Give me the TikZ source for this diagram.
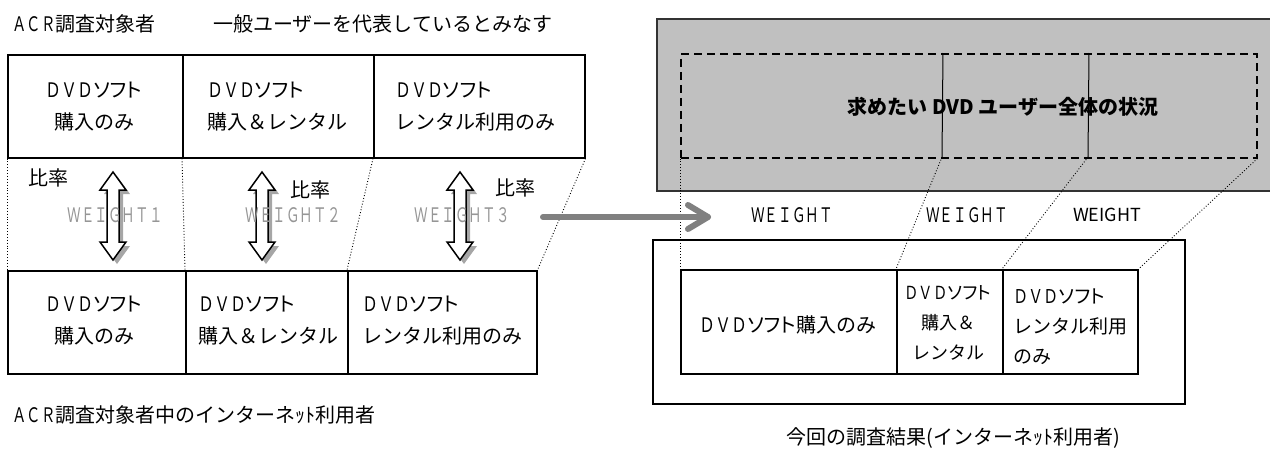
\documentclass[tikz,border=0pt]{standalone}
\usepackage{graphicx}
\usepackage{fontspec}
\setmainfont{Noto Sans CJK JP}
\newfontfamily\pk[RawFeature=+palt]{Noto Sans CJK JP}
\usetikzlibrary{shadows,calc}
\newcommand\dvd{\scalebox{0.8}[1]{ＤＶＤ}{\pk ソフト}}
\newcommand\acr{\scalebox{0.72}[1]{ＡＣＲ}}
\newcommand\wgt[1]{\scalebox{0.68}[1]{#1}}
\definecolor{silverbg}{RGB}{192,192,192}
\definecolor{arrowgray}{RGB}{128,128,128}
\definecolor{wgray}{RGB}{150,150,150}
\begin{document}
\begin{tikzpicture}[x=1pt,y=-1pt,
  cell/.style={draw,line width=1.5pt,inner sep=0,anchor=north west},
  lbl/.style={inner sep=0,font=\fontsize{20}{32}\selectfont},
  dots/.style={dotted,line width=0.9pt},
  wlbl/.style={inner sep=0,font=\fontsize{20}{22}\selectfont},
  dbl/.style={draw,line width=1.5pt,fill=white,drop shadow={shadow xshift=4pt,shadow yshift=-4pt,fill=gray!70,opacity=1}},
  garrow/.style={draw=arrowgray,line width=6pt,line cap=round,line join=round}]
\useasboundingbox (0,0) rectangle (1270,450);

% ---------- header ----------
\node[lbl,anchor=west] (h1) at (12,24) {\acr 調査対象者};
\node[lbl,anchor=west] (h2) at (213,24) {一般ユーザーを代表しているとみなす};

% ---------- left top row ----------
\node[cell,minimum width=175pt,minimum height=103pt] (T1) at (7,54) {};
\node[cell,minimum width=191pt,minimum height=103pt] (T2) at (182,54) {};
\node[cell,minimum width=211pt,minimum height=103pt] (T3) at (373,54) {};
\node[lbl,align=center] (t1) at (94,107) {\dvd\\購入のみ};
\node[lbl,align=left,anchor=west] (t2) at (207,107) {\dvd\\購入＆レンタル};
\node[lbl,align=left,anchor=west] (t3) at (395,107) {\dvd\\レンタル利用のみ};

% ---------- left bottom row ----------
\node[cell,minimum width=178pt,minimum height=103pt] (B1) at (7,270) {};
\node[cell,minimum width=162pt,minimum height=103pt] (B2) at (185,270) {};
\node[cell,minimum width=189pt,minimum height=103pt] (B3) at (347,270) {};
\node[lbl,align=center] (b1) at (94,321) {\dvd\\購入のみ};
\node[lbl,align=left,anchor=west] (b2) at (198,321) {\dvd\\購入＆レンタル};
\node[lbl,align=left,anchor=west] (b3) at (362,321) {\dvd\\レンタル利用のみ};

% dotted connectors left
\draw[dots] (T1.south west) -- (B1.north west);
\draw[dots] (T2.south west) -- (B2.north west);
\draw[dots] (T3.south west) -- (B3.north west);
\draw[dots] (T3.south east) -- (B3.north east);

% double arrows
\foreach \cx in {113,262,460} {
  \path[dbl] (\cx,172) -- (\cx+13,190) -- (\cx+6,190) -- (\cx+6,242) -- (\cx+13,242) -- (\cx,260)
    -- (\cx-13,242) -- (\cx-6,242) -- (\cx-6,190) -- (\cx-13,190) -- cycle;
}
\node[lbl,anchor=west] (r1) at (28,178) {比率};
\node[lbl,anchor=west] (r2) at (290,190) {比率};
\node[lbl,anchor=west] (r3) at (495,188) {比率};
\node[wlbl,text=wgray] (w1) at (115,215) {\wgt{ＷＥＩＧＨＴ１}};
\node[wlbl,text=wgray] (w2) at (293,215) {\wgt{ＷＥＩＧＨＴ２}};
\node[wlbl,text=wgray] (w3) at (462,215) {\wgt{ＷＥＩＧＨＴ３}};

\node[lbl,anchor=west] (c1) at (12,415) {\acr 調査対象者中のインターネｯﾄ利用者};

% ---------- right: target population ----------
\node[cell,fill=silverbg,draw=black!80,line width=2pt,minimum width=620pt,minimum height=172pt] (G) at (656,18) {};
\node[cell,dashed,dash pattern=on 8pt off 5pt,minimum width=576pt,minimum height=104pt] (D) at (680,53) {};
\coordinate (d1t) at (943,53);
\coordinate (d1b) at (942,157);
\coordinate (d2t) at (1089,53);
\coordinate (d2b) at (1088,157);
\draw[line width=1pt] (d1t) -- (d1b);
\draw[line width=1pt] (d2t) -- (d2b);
\node[inner sep=0,font=\fontsize{20}{24}\selectfont\bfseries] (title) at (1003,107) {求めたい DVD ユーザー全体の状況};

% ---------- right: survey result ----------
\node[cell,minimum width=532pt,minimum height=164pt] (O) at (652,239) {};
\node[cell,minimum width=216pt,minimum height=104pt] (R1) at (680,269) {};
\node[cell,minimum width=106pt,minimum height=104pt] (R2) at (896,269) {};
\node[cell,minimum width=135pt,minimum height=104pt] (R3) at (1002,269) {};
\node[lbl] (rt1) at (788,325) {\dvd 購入のみ};
\node[lbl,align=center,font=\fontsize{18}{30}\selectfont] (rt2) at (948,323) {\dvd\\購入＆\\レンタル};
\node[lbl,align=left,anchor=west,font=\fontsize{19}{30}\selectfont] (rt3) at (1013,327) {\dvd\\レンタル利用\\のみ};

\draw[dots] (D.south west) -- (R1.north west);
\draw[dots] (d1b) -- (R2.north west);
\draw[dots] (d2b) -- (R3.north west);
\draw[dots] (D.south east) -- (R3.north east);

\node[wlbl] (w4) at (792,215) {\wgt{ＷＥＩＧＨＴ}};
\node[wlbl] (w5) at (967,215) {\wgt{ＷＥＩＧＨＴ}};
\node[wlbl,font=\fontsize{18}{20}\selectfont] (w6) at (1107,215) {WEIGHT};

\node[lbl] (c2) at (953,438) {今回の調査結果(インターネｯﾄ利用者)};

% ---------- big gray arrow ----------
\coordinate (ga) at (543,217);
\coordinate (gb) at (708,217);
\draw[garrow] (ga) -- (gb);
\draw[garrow] ($(gb)+(-20,-12)$) -- (gb) -- ($(gb)+(-20,12)$);
\end{tikzpicture}
\end{document}
